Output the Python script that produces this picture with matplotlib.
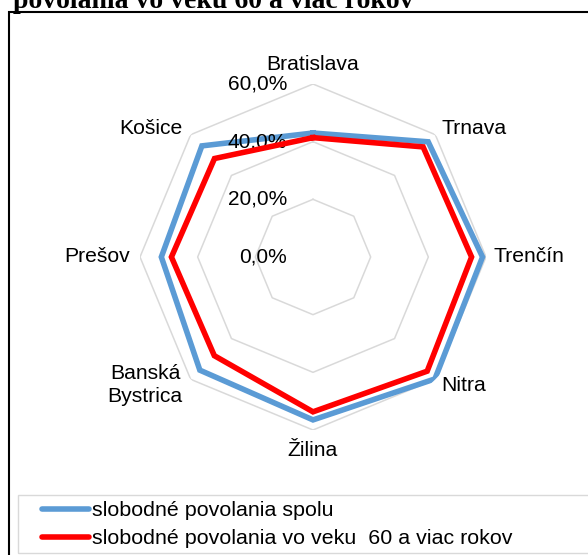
import numpy as np
import matplotlib
matplotlib.use("Agg")
import matplotlib.pyplot as plt
from matplotlib.patches import Rectangle
from matplotlib.lines import Line2D
from matplotlib.transforms import offset_copy

plt.rcParams['font.family'] = ['Liberation Sans', 'DejaVu Sans']

# regions, clockwise from the top
regions = ['Bratislava', 'Trnava', 'Trenčín', 'Nitra', 'Žilina',
           'Banská\nBystrica', 'Prešov', 'Košice']
spolu = [43.0, 56.5, 58.8, 59.8, 56.5, 55.5, 52.6, 54.5]
nad_60 = [41.4, 54.0, 55.0, 56.0, 53.7, 48.4, 49.1, 48.3]
r_ticks = [0, 20, 40, 60]
r_tick_labels = ['0,0%', '20,0%', '40,0%', '60,0%']
series_names = ['slobodné povolania spolu',
                'slobodné povolania vo veku  60 a viac rokov']
title = 'povolania vo veku 60 a viac rokov'

BLUE = '#5b9bd5'
RED = '#ff0000'
GRID = '#d9d9d9'

W, H = 588, 555
fig = plt.figure(figsize=(W / 100, H / 100), dpi=100)

# chart area border and the title above it
fig.patches.append(Rectangle((9 / W, -0.1), 1.2, 1 - 12 / H + 0.1,
                             transform=fig.transFigure, fill=False,
                             edgecolor='black', linewidth=1.5))
fig.text(13 / W, 1 - 8 / H, title, fontsize=20, fontweight='bold',
         family=['Liberation Serif', 'DejaVu Serif'], ha='left', va='baseline')

cx, cy, rad = 313, 257, 173
ax = fig.add_axes([(cx - rad) / W, 1 - (cy + rad) / H, 2 * rad / W, 2 * rad / H],
                  projection='polar')
ax.set_theta_zero_location('N')
ax.set_theta_direction(-1)
ax.set_ylim(0, 60)
ax.grid(False)
ax.set_xticks([])
ax.set_yticks([])
ax.spines['polar'].set_visible(False)
ax.patch.set_visible(False)

n = len(regions)
theta = np.arange(n) * 2 * np.pi / n
theta_c = np.append(theta, theta[0])

# octagonal grid
for r in r_ticks[1:]:
    ax.plot(theta_c, [r] * (n + 1), color=GRID, lw=1.1, zorder=1)

def closed(v):
    return np.append(v, v[0])

ax.plot(theta_c, closed(spolu), color=BLUE, lw=4, solid_joinstyle='miter', zorder=3)
ax.plot(theta_c, closed(nad_60), color=RED, lw=4, solid_joinstyle='miter', zorder=4)

# radial axis labels, left of the vertical axis
lab_tr = offset_copy(ax.transData, fig=fig, x=-26, y=0, units='dots')
for r, lab in zip(r_ticks, r_tick_labels):
    ax.text(0, r, lab, transform=lab_tr, ha='right', va='center', fontsize=15,
            clip_on=False)

# category labels just outside the outer ring
for t, name in zip(theta, regions):
    s, c = np.sin(t), np.cos(t)
    if abs(s) < 0.1:
        dx, dy, ha = 0, 20 * np.sign(c), 'center'
    elif abs(c) < 0.1:
        dx, dy, ha = (7 if s > 0 else -10), 0, ('left' if s > 0 else 'right')
    else:
        dx = 6 if s > 0 else -8
        dy = 6 if c > 0 else -6
        ha = 'left' if s > 0 else 'right'
    tr = offset_copy(ax.transData, fig=fig, x=dx, y=dy, units='dots')
    ax.text(t, 60, name, transform=tr, ha=ha, va='center', fontsize=15.2,
            multialignment='center', linespacing=1.25, clip_on=False)

# legend with its own light frame
fig.patches.append(Rectangle((18 / W, 1 - 553 / H), 1.2, 58 / H,
                             transform=fig.transFigure, fill=False,
                             edgecolor=GRID, linewidth=1.0))
handles = [Line2D([], [], color=BLUE, lw=4, solid_capstyle='round'),
           Line2D([], [], color=RED, lw=4, solid_capstyle='round')]
fig.legend(handles, series_names, loc='upper left',
           bbox_to_anchor=(42 / W, 1 - 501 / H), frameon=False, fontsize=15.4,
           handlelength=2.2, handletextpad=0.15, labelspacing=0.43,
           borderpad=0, borderaxespad=0)

fig.savefig('out.png', dpi=100)
